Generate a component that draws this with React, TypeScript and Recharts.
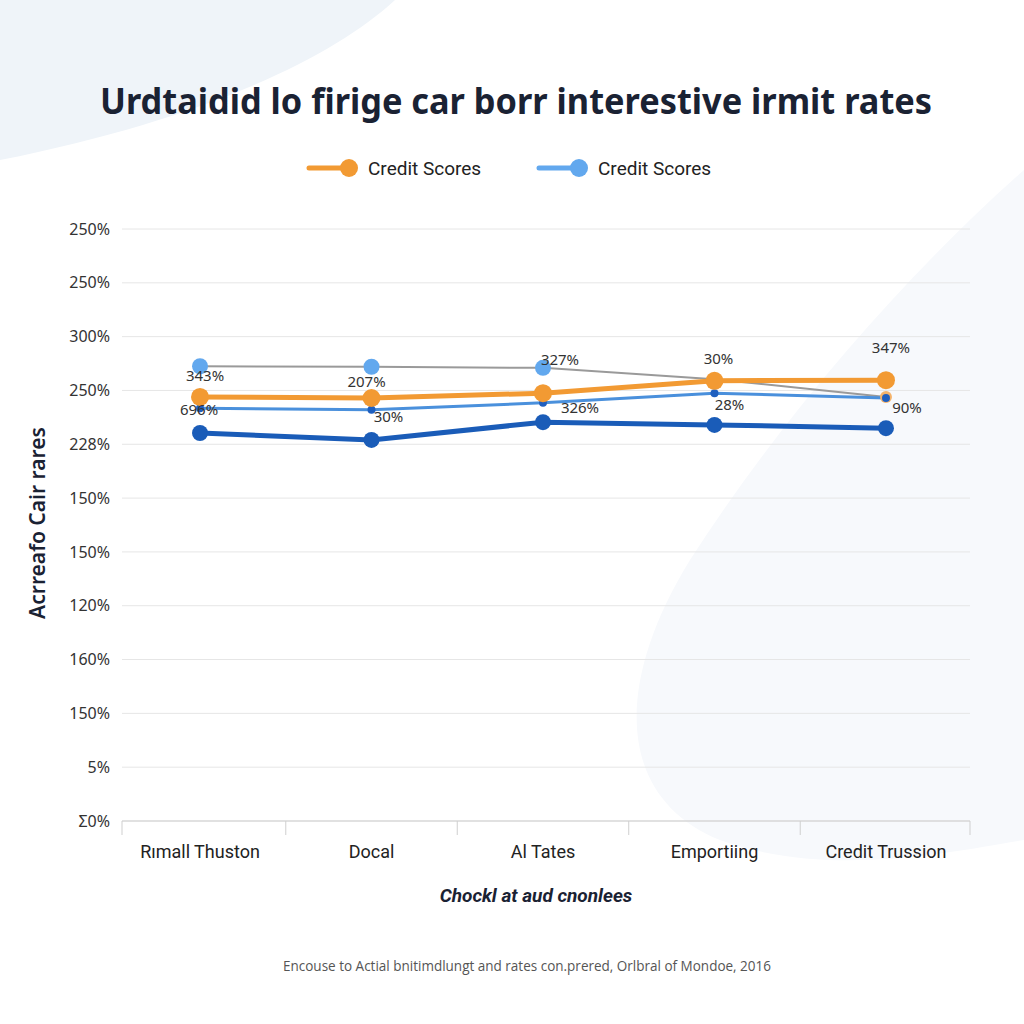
import React from "react";
import { LineChart, Line, XAxis, YAxis, CartesianGrid, LabelList } from "recharts";

const categories = ["Rımall Thuston", "Docal", "Al Tates", "Emportiing", "Credit Trussion"];
const yTickLabels = ["Σ0%", "5%", "150%", "160%", "120%", "150%", "150%", "228%", "250%", "300%", "250%", "250%"];
const orangeValues = [7.88, 7.86, 7.95, 8.18, 8.19];
const grayValues = [8.45, 8.44, 8.42, 8.21, 7.88];
const lightBlueValues = [7.67, 7.64, 7.77, 7.95, 7.86];
const darkBlueValues = [7.21, 7.08, 7.41, 7.36, 7.30];
const topLabels = ["343%", "207%", "327%", "30%", "347%"];
const bottomLabels = ["696%", "30%", "326%", "28%", "90%"];
const legendNames = ["Credit Scores", "Credit Scores"];

const data = categories.map((c, i) => ({
  x: i,
  name: c,
  orange: orangeValues[i],
  gray: grayValues[i],
  light: lightBlueValues[i],
  dark: darkBlueValues[i],
  top: topLabels[i],
  bottom: bottomLabels[i],
}));

const topOffsets = [[5, -21], [-5, -16], [17, -33], [4, -22], [5, -32]];
const bottomOffsets = [[-1, 2], [17, 7], [37, 5], [15, 12], [21, 10]];

const FONT = "'Noto Sans', 'Open Sans', sans-serif";

const xTicks = [-0.455, 0, 0.5, 1, 1.5, 2, 2.5, 3, 3.5, 4, 4.49];

const XTick = (props: any) => {
  const { x, y, payload } = props;
  const v = payload.value;
  if (Number.isInteger(v)) {
    return (
      <text x={x} y={y + 37} textAnchor="middle" fontSize={18} fill="#222" fontFamily="Roboto, sans-serif">
        {categories[v]}
      </text>
    );
  }
  return <line x1={x} x2={x} y1={y} y2={y + 14} stroke="#cfcfcf" strokeWidth={1} />;
};

const grayDot = (props: any) => {
  const { cx, cy, index } = props;
  if (index < 3) return <circle key={index} cx={cx} cy={cy} r={8} fill="#62a8ee" />;
  if (index === 4) return <circle key={index} cx={cx} cy={cy} r={6} fill="#f4b36b" />;
  return <g key={index} />;
};

const makeLabel = (offsets: number[][]) => (props: any) => {
  const { x, y, value, index } = props;
  const [dx, dy] = offsets[index];
  return (
    <text x={x + dx} y={y + dy + 5} textAnchor="middle" fontSize={15} fill="#333" fontFamily={FONT}>
      {value}
    </text>
  );
};

export default function App() {
  return (
    <div style={{ position: "absolute", left: 0, top: 0, width: 1024, height: 1024, background: "#ffffff", overflow: "hidden" }}>
      <svg width={1024} height={1024} style={{ position: "absolute", left: 0, top: 0 }}>
        <path d="M0,0 L395,0 C330,60 200,120 0,160 Z" fill="#eff4f9" />
        <path d="M1024,170 C900,280 780,420 690,560 C610,690 620,800 720,840 C830,880 960,850 1024,840 Z" fill="#f7f9fc" />
      </svg>
      <div style={{ position: "absolute", left: 0, top: 0 }}>
        <LineChart
          width={1024}
          height={1024}
          data={data}
          margin={{ top: 229, right: 54, bottom: 0, left: 0 }}
        >
          <CartesianGrid vertical={false} stroke="#e6e6e6" />
          <XAxis
            dataKey="x"
            type="number"
            domain={[-0.455, 4.49]}
            ticks={xTicks}
            interval={0}
            tick={<XTick />}
            tickLine={false}
            tickSize={0}
            tickMargin={0}
            stroke="#cfcfcf"
            height={203}
            allowDataOverflow
          />
          <YAxis
            type="number"
            domain={[0, 11]}
            ticks={[0, 1, 2, 3, 4, 5, 6, 7, 8, 9, 10, 11]}
            tickFormatter={(v: number) => yTickLabels[v]}
            width={122}
            axisLine={false}
            tickLine={false}
            tickSize={0}
            tickMargin={12}
            tick={{ fontSize: 16, fill: "#333", fontFamily: FONT }}
          />
          <Line type="linear" dataKey="gray" stroke="#9a9a9a" strokeWidth={2} dot={grayDot} isAnimationActive={false} />
          <Line type="linear" dataKey="light" stroke="#4a90dc" strokeWidth={3} dot={{ r: 4, fill: "#1f5fbf", stroke: "none" }} isAnimationActive={false}>
            <LabelList dataKey="bottom" content={makeLabel(bottomOffsets)} />
          </Line>
          <Line type="linear" dataKey="orange" stroke="#f29a33" strokeWidth={5} dot={{ r: 9, fill: "#f29a33", stroke: "none" }} isAnimationActive={false}>
            <LabelList dataKey="top" content={makeLabel(topOffsets)} />
          </Line>
          <Line type="linear" dataKey="dark" stroke="#1a5cb8" strokeWidth={5} dot={{ r: 8, fill: "#1a5cb8", stroke: "none" }} isAnimationActive={false} />
        </LineChart>
      </div>
      <svg width={1024} height={1024} style={{ position: "absolute", left: 0, top: 0, pointerEvents: "none" }}>
        <text x={516} y={114} textAnchor="middle" fontSize={36} fontWeight={700} fill="#1a2233" fontFamily={FONT} textLength={832} lengthAdjust="spacingAndGlyphs">
          Urdtaidid lo firige car borr interestive irmit rates
        </text>
        <line x1={309} x2={349} y1={168} y2={168} stroke="#f29a33" strokeWidth={5} strokeLinecap="round" />
        <circle cx={349} cy={168} r={9} fill="#f29a33" />
        <text x={368} y={175} fontSize={19} fill="#222" fontFamily="Roboto, sans-serif">{legendNames[0]}</text>
        <line x1={539} x2={579} y1={168} y2={168} stroke="#62a8ee" strokeWidth={5} strokeLinecap="round" />
        <circle cx={579} cy={168} r={9} fill="#62a8ee" />
        <text x={598} y={175} fontSize={19} fill="#222" fontFamily="Roboto, sans-serif">{legendNames[1]}</text>
        <text x={0} y={0} transform="translate(45,523) rotate(-90)" textAnchor="middle" fontSize={21} fontWeight={600} fill="#1a2233" fontFamily={FONT}>
          Acrreafo Cair rares
        </text>
        <text x={536} y={902} textAnchor="middle" fontSize={19} fontStyle="italic" fontWeight={700} fill="#1a2233" fontFamily="Roboto, sans-serif">
          Chockl at aud cnonlees
        </text>
        <text x={527} y={971} textAnchor="middle" fontSize={15} fill="#555" fontFamily="'Open Sans', sans-serif" textLength={488} lengthAdjust="spacingAndGlyphs">
          Encouse to Actial bnitimdlungt and rates con.prered, Orlbral of Mondoe, 2016
        </text>
      </svg>
    </div>
  );
}
